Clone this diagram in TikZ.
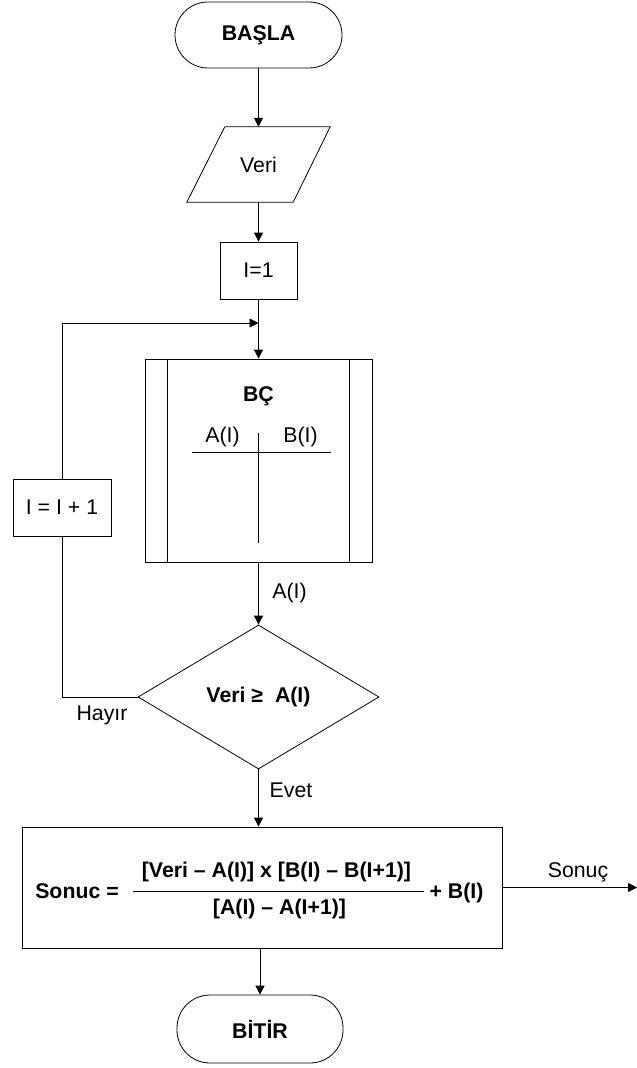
\documentclass[tikz,border=0pt]{standalone}
\usepackage{fontspec}
\setmainfont{Liberation Sans}
\usetikzlibrary{arrows.meta,shapes.geometric}
\begin{document}
\begin{tikzpicture}[x=1pt,y=-1pt,
  every node/.style={font=\fontsize{21.3}{25}\selectfont, inner sep=0pt},
  line/.style={draw=black, line width=0.8pt},
  arr/.style={line, -{Triangle[length=9pt,width=9pt]}},
  boxnode/.style={draw, line width=0.8pt, rectangle},
  term/.style={draw, line width=0.8pt, rectangle, rounded corners=33pt, font=\fontsize{21.3}{25}\selectfont\bfseries},
  bold/.style={font=\fontsize{21.3}{25}\selectfont\bfseries}]
\useasboundingbox (0,0) rectangle (637,1068);

% nodes
\node[term, minimum width=167pt, minimum height=66pt] (start) at (258.5,35) {BAŞLA};
\node[minimum width=143pt, minimum height=75pt] (veri) at (258.5,164.5) {Veri};
\draw[line] ([xshift=38pt]veri.north west) -- (veri.north east) -- ([xshift=-37pt]veri.south east) -- (veri.south west) -- cycle;
\node[boxnode, minimum width=77pt, minimum height=57pt] (i1) at (258.5,270.5) {I=1};
\coordinate (join) at (258.5,323);
\node[boxnode, minimum width=227pt, minimum height=203pt] (bc) at (258.5,460.5) {};
\draw[line] ([xshift=23pt]bc.north west) -- ([xshift=23pt]bc.south west);
\draw[line] ([xshift=-23pt]bc.north east) -- ([xshift=-23pt]bc.south east);
\node[bold] (bct) at (258.5,396) {BÇ};
\node (ai) at (222.5,437) {A(I)};
\node (bi) at (300.5,437) {B(I)};
\draw[line] (192,452) -- (331,452);
\draw[line] (258.5,433) -- (258.5,543);
\node[diamond, draw, line width=0.8pt, minimum width=241pt, minimum height=144pt, bold] (dec) at (258.5,697) {Veri ≥\ \ A(I)};
\node (ailbl) at (289.5,593) {A(I)};
\node (evet) at (291,790) {Evet};
\node (hayir) at (102,715) {Hayır};
\node[boxnode, minimum width=98pt, minimum height=57pt] (inc) at (62,507.5) {I = I + 1};
\node[boxnode, minimum width=480pt, minimum height=121pt] (res) at (262,887.5) {};
\node[bold] (sonuc) at (77,891) {Sonuc =};
\node[bold] (num) at (276.5,872) {[Veri – A(I)] x [B(I) – B(I+1)]};
\node[bold] (den) at (279.5,909) {[A(I) – A(I+1)]};
\draw[line] (133,891) -- (424,891);
\node[bold] (plus) at (456.5,893) {+ B(I)};
\node (sonuclbl) at (578,872) {Sonuç};
\coordinate (out) at (637,887.5);
\node[term, minimum width=166pt, minimum height=68pt] (end) at (260,1029) {BİTİR};

% connectors
\draw[arr] (start) -- (veri);
\draw[arr] (veri) -- (i1);
\draw[arr] (i1) -- (bc);
\draw[arr] (inc.north) |- (join);
\draw[line] (dec.west) -| (inc.south);
\draw[arr] (bc) -- (dec);
\draw[arr] (dec.south) -- (dec.south |- res.north);
\draw[arr] (res) -- (out);
\draw[arr] (end.north |- res.south) -- (end.north);
\end{tikzpicture}
\end{document}
